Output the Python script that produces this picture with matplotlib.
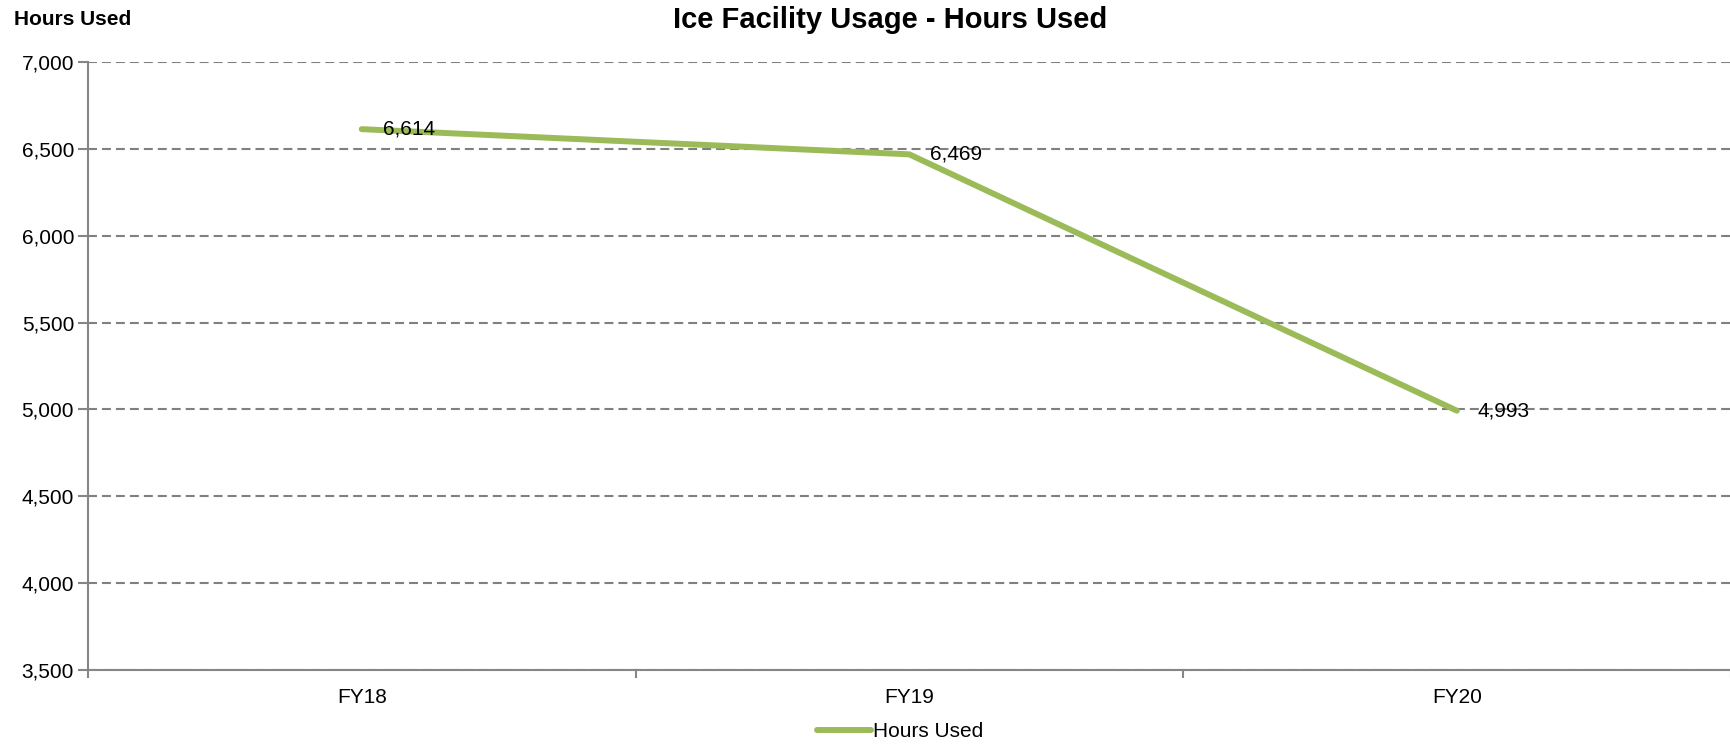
import matplotlib
matplotlib.use("Agg")
from matplotlib import pyplot as plt
from matplotlib.ticker import FuncFormatter, FixedLocator

plt.rcParams['font.family'] = ['Liberation Sans', 'DejaVu Sans']

# data
years = ['FY18', 'FY19', 'FY20']
hours_used = [6614, 6469, 4993]
y_ticks = [3500, 4000, 4500, 5000, 5500, 6000, 6500, 7000]

green = '#9BBB59'
grey = '#868686'

fig = plt.figure(figsize=(17.31, 7.44), dpi=100)
ax = fig.add_axes([0.0508, 0.0995, 0.949, 0.817])

x = list(range(len(years)))
ax.plot(x, hours_used, color=green, lw=4.3, solid_capstyle='round',
        solid_joinstyle='round', label='Hours Used', zorder=3)

# data labels to the right of each point
for xi, v in zip(x, hours_used):
    ax.annotate('{:,}'.format(v), (xi, v), xytext=(15, 0),
                textcoords='offset points', ha='left', va='center',
                fontsize=15, color='black', zorder=4)

ax.set_xlim(-0.5, len(years) - 0.5)
ax.set_ylim(y_ticks[0], y_ticks[-1])

ax.set_xticks(x)
ax.set_xticklabels(years, fontsize=15)
ax.xaxis.set_minor_locator(FixedLocator([i - 0.5 for i in range(len(years) + 1)]))
ax.tick_params(axis='x', which='major', length=0, pad=13)
ax.tick_params(axis='x', which='minor', length=6, width=1.5, color=grey)

ax.set_yticks(y_ticks)
ax.yaxis.set_major_formatter(FuncFormatter(lambda v, p: '{:,.0f}'.format(v)))
ax.tick_params(axis='y', length=7, width=1.5, color=grey, labelsize=15, pad=3)

ax.grid(axis='y', color='#808080', lw=1.5, linestyle=(0, (4.3, 2.4)), zorder=1)

for s in ['top', 'right']:
    ax.spines[s].set_visible(False)
for s in ['left', 'bottom']:
    ax.spines[s].set_color(grey)
    ax.spines[s].set_linewidth(1.5)

fig.text(0.514, 0.973, 'Ice Facility Usage - Hours Used', ha='center',
         va='center', fontsize=21, fontweight='bold')
fig.text(0.008, 0.974, 'Hours Used', ha='left', va='center',
         fontsize=15, fontweight='bold')

fig.legend(loc='center', bbox_to_anchor=(0.52, 0.017), frameon=False,
           fontsize=15, handlelength=2.6, handletextpad=0.1,
           borderaxespad=0)

fig.savefig('out.png', dpi=100)
